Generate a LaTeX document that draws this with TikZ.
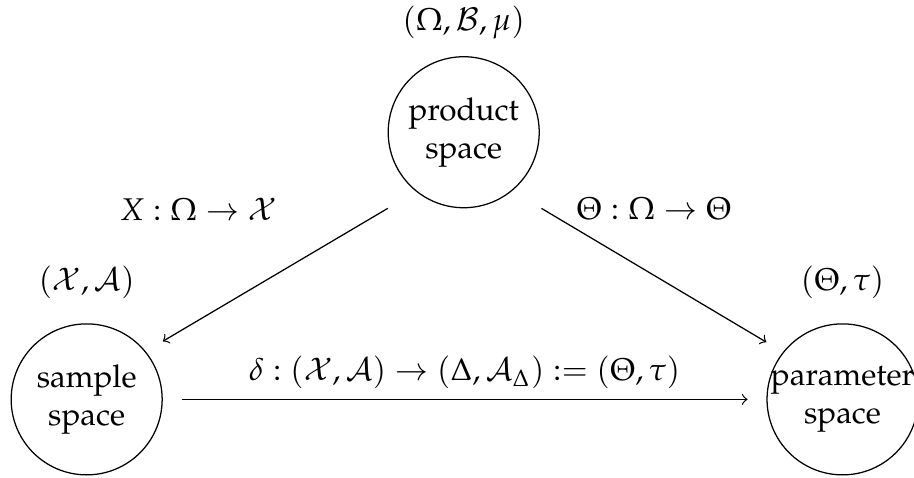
\documentclass[tikz,border=0pt]{standalone}
\usepackage{amsmath}
\usepackage[T1]{fontenc}
\usepackage{mathpazo}
\usepackage{tikz}
\usetikzlibrary{positioning}

\tikzset{
  espacio/.style={circle,draw,minimum size=1.69cm,inner sep=0pt,
    text width=1.3cm,align=center},
}

\begin{document}
\begin{tikzpicture}[x=1cm,y=1cm]
\useasboundingbox (0,0) rectangle (10.23,5.34);

% Espacios
\node[espacio] (prod)  at (5.19,3.86) {product\\space};
\node[espacio] (samp)  at (0.97,0.87) {sample\\space};
\node[espacio] (param) at (9.43,0.87) {\makebox[1.3cm]{parameter}\\space};

% Estructuras
\node[above=0.07cm of prod]  (prodlbl)  {$(\Omega,\mathcal{B},\mu)$};
\node[above=0.15cm of samp]  (samplbl)  {$(\mathcal{X},\mathcal{A})$};
\node[above=0.15cm of param] (paramlbl) {$(\Theta,\tau)$};

% Aplicaciones
\draw[->] ([xshift=-0.85cm]prod.south) -- ([yshift=0.65cm]samp.east);
\draw[->] ([xshift=0.87cm]prod.south) -- ([yshift=0.64cm]param.west);
\draw[->,shorten <=0.21cm,shorten >=0.21cm] (samp) -- (param)
  node[midway,above] (dlbl)
  {$\delta:(\mathcal{X},\mathcal{A})\to(\Delta,\mathcal{A}_\Delta):=(\Theta,\tau)$};

\node (xlbl) at (2.22,3.00) {$X:\Omega\to\mathcal{X}$};
\node (tlbl) at (7.32,3.00) {$\Theta:\Omega\to\Theta$};

\end{tikzpicture}
\end{document}
